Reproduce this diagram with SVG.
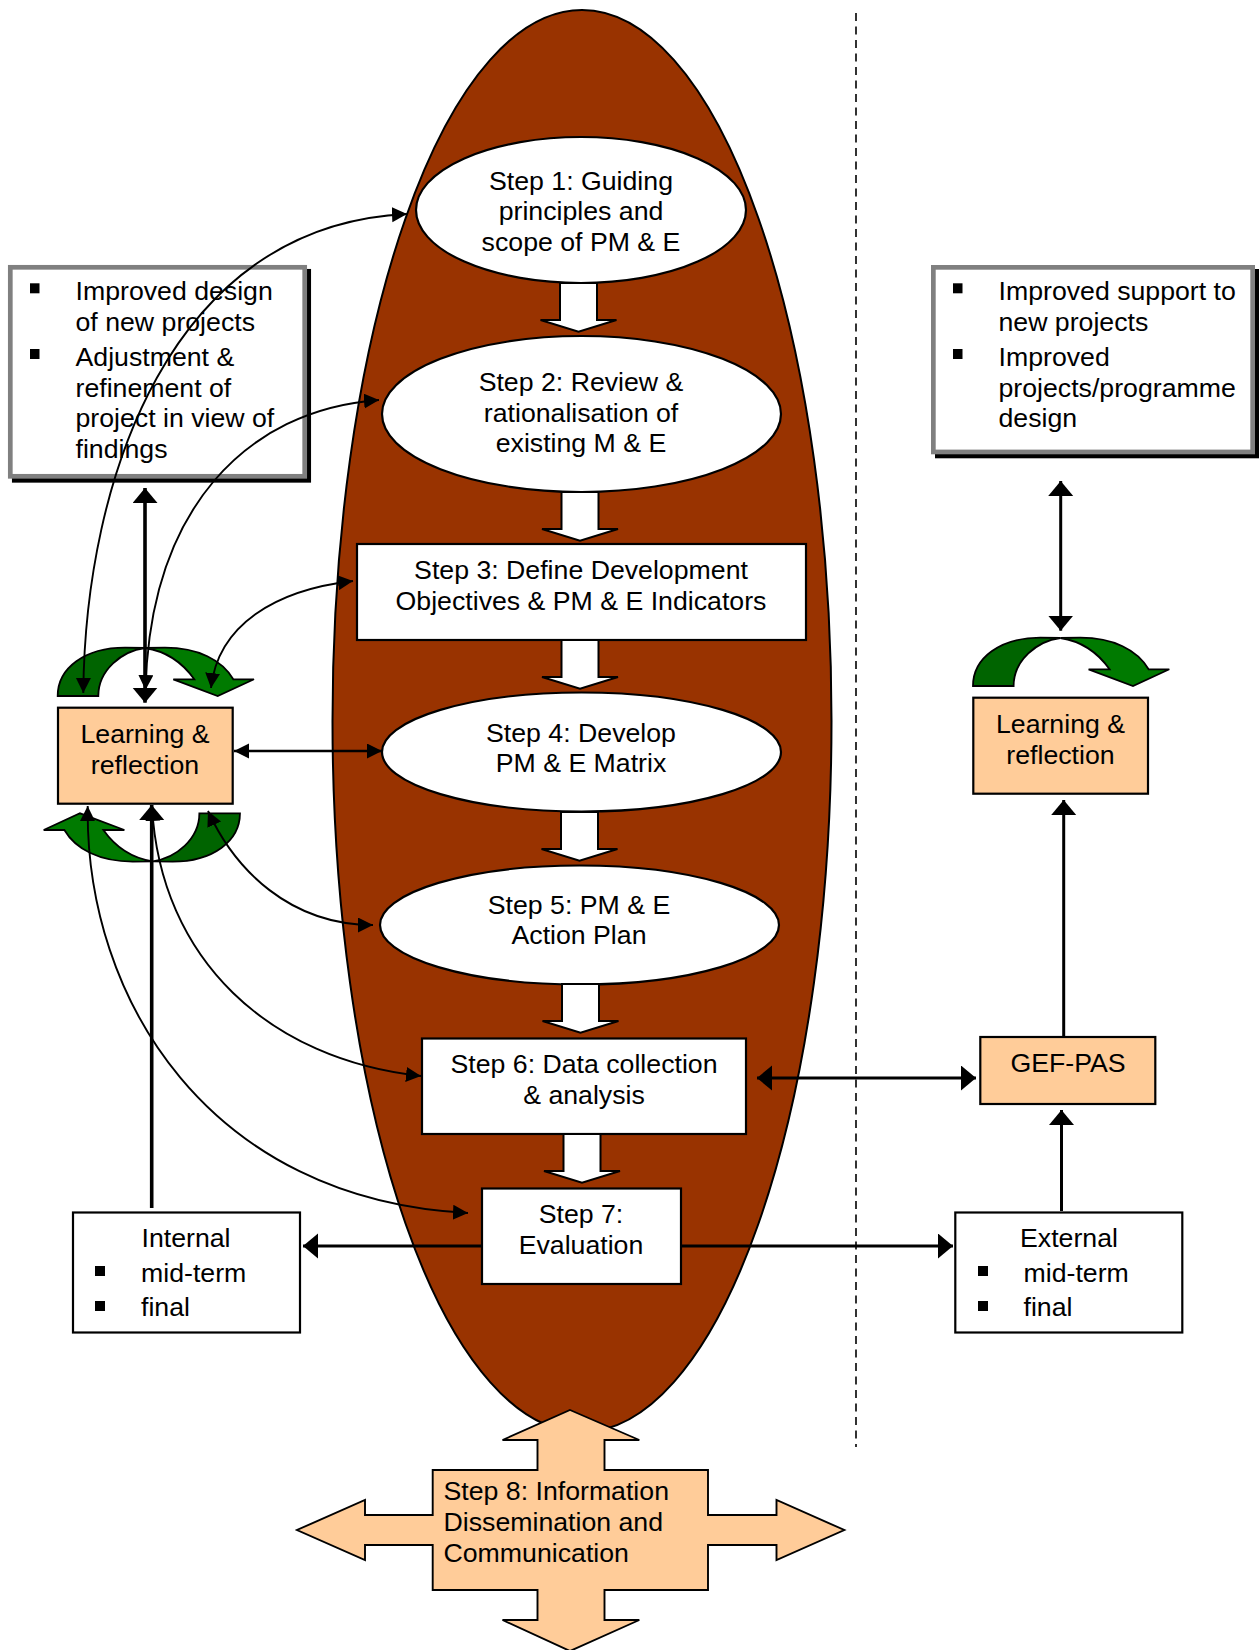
<svg xmlns="http://www.w3.org/2000/svg" xmlns:xlink="http://www.w3.org/1999/xlink" width="1259" height="1650" viewBox="0 0 1259 1650">
<style>
text{font-family:"Liberation Sans",Arial,sans-serif;font-size:26.7px;fill:#000}
.m{text-anchor:middle}
.box{fill:#fff;stroke:#000;stroke-width:2.2}
.peach{fill:#fc9;stroke:#000;stroke-width:2.2}
.ell{fill:#fff;stroke:#000;stroke-width:2.2}
.ws{fill:#fff;stroke:#000;stroke-width:2;stroke-linejoin:miter}
.thin{fill:none;stroke:#000;stroke-width:1.9;marker-start:url(#ahs);marker-end:url(#ah)}
.thick{fill:none;stroke:#000;stroke-width:3}
.heavy{fill:none;stroke:#000;stroke-width:3.6}
.dk{fill:#006400;stroke:#000;stroke-width:1.8}
.gr{fill:#007a00;stroke:#000;stroke-width:1.8}
</style>
<defs>
<marker id="ah" markerUnits="userSpaceOnUse" markerWidth="18" markerHeight="18" refX="15" refY="7.5" orient="auto"><path d="M0,0L15,7.5L0,15Z" fill="#000"/></marker>
<marker id="ahs" markerUnits="userSpaceOnUse" markerWidth="18" markerHeight="18" refX="15" refY="7.5" orient="auto-start-reverse"><path d="M0,0L15,7.5L0,15Z" fill="#000"/></marker>
<marker id="big" markerUnits="userSpaceOnUse" markerWidth="20" markerHeight="28" refX="15" refY="12.5" orient="auto"><path d="M0,0L15,12.5L0,25Z" fill="#000"/></marker>
<marker id="bigs" markerUnits="userSpaceOnUse" markerWidth="20" markerHeight="28" refX="15" refY="12.5" orient="auto-start-reverse"><path d="M0,0L15,12.5L0,25Z" fill="#000"/></marker>
<g id="down"><polygon class="ws" points="-18.5,0 18.5,0 18.5,37 38,37 0,48.7 -38,37 -18.5,37"/></g>
<g id="loop"><path class="dk" d="M57.7,696C57.7,668 85,647.7 125,647.7L145,648C122,651 98.3,670 98.3,696Z"/><path class="gr" d="M145,648L165,647.7C198,647.7 222,660 233.3,679.3L254,679.3L217.7,696L173.3,679.3L194.3,679.3C182,662 165,651 145,648Z"/></g>
</defs>
<g id="dashed-divider"><line x1="856" y1="13" x2="856" y2="1447" stroke="#000" stroke-width="1.6" stroke-dasharray="8 5.5"/></g>
<g id="big-ellipse"><ellipse cx="582" cy="721" rx="249.5" ry="711" fill="#930" stroke="#000" stroke-width="2"/></g>
<g id="step-1"><ellipse class="ell" cx="581" cy="210" rx="165" ry="73"/><text class="m" x="581" y="190">Step 1: Guiding</text><text class="m" x="581" y="220">principles and</text><text class="m" x="581" y="251">scope of PM &amp; E</text></g>
<g id="step-2"><ellipse class="ell" cx="581.5" cy="414" rx="199.5" ry="78"/><text class="m" x="581" y="391">Step 2: Review &amp;</text><text class="m" x="581" y="422">rationalisation of</text><text class="m" x="581" y="452">existing M &amp; E</text></g>
<g id="step-3"><rect class="box" x="357" y="544" width="449" height="96"/><text class="m" x="581" y="579">Step 3: Define Development</text><text class="m" x="581" y="610">Objectives &amp; PM &amp; E Indicators</text></g>
<g id="step-4"><ellipse class="ell" cx="581.5" cy="752" rx="199.5" ry="59.5"/><text class="m" x="581" y="742">Step 4: Develop</text><text class="m" x="581" y="772">PM &amp; E Matrix</text></g>
<g id="step-5"><ellipse class="ell" cx="579.5" cy="925" rx="199.5" ry="59.5"/><text class="m" x="579" y="914">Step 5: PM &amp; E</text><text class="m" x="579" y="944">Action Plan</text></g>
<g id="step-6"><rect class="box" x="422" y="1038.5" width="324" height="95.5"/><text class="m" x="584" y="1073">Step 6: Data collection</text><text class="m" x="584" y="1104">&amp; analysis</text></g>
<g id="step-7"><rect class="box" x="482" y="1188.5" width="199" height="95.5"/><text class="m" x="581" y="1223">Step 7:</text><text class="m" x="581" y="1254">Evaluation</text></g>
<g id="flow-arrows">
<use xlink:href="#down" href="#down" x="578.5" y="283"/>
<use xlink:href="#down" href="#down" x="580" y="492"/>
<use xlink:href="#down" href="#down" x="580" y="640"/>
<use xlink:href="#down" href="#down" x="579.5" y="812"/>
<use xlink:href="#down" href="#down" x="580.5" y="984"/>
<use xlink:href="#down" href="#down" x="582" y="1134"/>
</g>
<g id="step-8"><polygon class="peach" style="stroke-width:1.9" points="570,1410 639.3,1440 604.5,1440 604.5,1470 708,1470 708,1515 776.5,1515 776.5,1500 844.3,1530 776.5,1560 776.5,1545 708,1545 708,1590 604.5,1590 604.5,1620 639.3,1620 570,1651 502.5,1620 537.5,1620 537.5,1590 432.7,1590 432.7,1545 365,1545 365,1560 297,1530 365,1500 365,1515 432.7,1515 432.7,1470 537.5,1470 537.5,1440 502.5,1440"/><text x="443.5" y="1500">Step 8: Information</text><text x="443.5" y="1531">Dissemination and</text><text x="443.5" y="1562">Communication</text></g>
<g id="outcomes-left"><rect x="14.3" y="271.3" width="294.4" height="209" fill="#000" stroke="#000" stroke-width="4.7"/><rect x="10.3" y="267.3" width="294.4" height="209" fill="#fff" stroke="#808080" stroke-width="4.7"/><rect x="30" y="283.3" width="9.5" height="10"/><rect x="30" y="349" width="9.5" height="10"/><text x="75.5" y="300">Improved design</text><text x="75.5" y="330.7">of new projects</text><text x="75.5" y="366">Adjustment &amp;</text><text x="75.5" y="396.5">refinement of</text><text x="75.5" y="427">project in view of</text><text x="75.5" y="457.5">findings</text></g>
<g id="outcomes-right"><rect x="937.35" y="271.35" width="319.3" height="184.6" fill="#000" stroke="#000" stroke-width="4.7"/><rect x="933.35" y="267.35" width="319.3" height="184.6" fill="#fff" stroke="#808080" stroke-width="4.7"/><rect x="953" y="283.3" width="9.5" height="10"/><rect x="953" y="349" width="9.5" height="10"/><text x="998.5" y="300">Improved support to</text><text x="998.5" y="330.7">new projects</text><text x="998.5" y="366">Improved</text><text x="998.5" y="396.5">projects/programme</text><text x="998.5" y="427">design</text></g>
<g id="learning-left"><rect class="peach" x="58" y="707.7" width="174.7" height="96"/><text class="m" x="145" y="743.3">Learning &amp;</text><text class="m" x="145" y="773.8">reflection</text></g>
<g id="learning-right"><rect class="peach" x="973.3" y="697.7" width="174.7" height="96"/><text class="m" x="1060.5" y="733">Learning &amp;</text><text class="m" x="1060.5" y="763.5">reflection</text></g>
<g id="loops">
<use xlink:href="#loop" href="#loop"/>
<use xlink:href="#loop" href="#loop" transform="translate(297.67,1509.3) rotate(180)"/>
<use xlink:href="#loop" href="#loop" transform="translate(915.3,-10)"/>
<use xlink:href="#loop" href="#loop" transform="translate(2128.27,1489.3) rotate(180)"/>
</g>
<g id="gef-pas"><rect class="peach" x="980.3" y="1037" width="175" height="67"/><text class="m" x="1068" y="1072">GEF-PAS</text></g>
<g id="internal"><rect class="box" x="73" y="1212.5" width="227" height="120"/><text class="m" x="186" y="1247">Internal</text><rect x="95" y="1266" width="10" height="10"/><text x="141" y="1282">mid-term</text><rect x="95" y="1301" width="10" height="10"/><text x="141" y="1316">final</text></g>
<g id="external"><rect class="box" x="955.3" y="1212.5" width="227" height="120"/><text class="m" x="1069" y="1247">External</text><rect x="978" y="1266" width="10" height="10"/><text x="1023.5" y="1282">mid-term</text><rect x="978" y="1301" width="10" height="10"/><text x="1023.5" y="1316">final</text></g>
<g id="connectors">
<path class="thin" d="M83.3,693C85,480 170,225 407,214"/>
<path class="thin" d="M145.5,690C150,510 245,410 379,400"/>
<path class="thin" d="M211,688C218,625 275,590 353,581"/>
<path class="thin" style="stroke-width:2.4" d="M234,751H382"/>
<path class="thin" d="M208,811C235,870 290,925 373,925"/>
<path class="thin" d="M152,806C160,960 270,1060 421,1076"/>
<path class="thin" d="M87.7,806C85,1000 210,1200 468,1213"/>
<path class="heavy" marker-start="url(#bigs)" marker-end="url(#big)" d="M145,488V702.7"/>
<path class="heavy" marker-end="url(#big)" d="M151.7,1208V805"/>
<path class="thick" marker-start="url(#bigs)" marker-end="url(#big)" d="M1060.7,481V630.7"/>
<path class="thick" marker-end="url(#big)" d="M1063.7,1037V800"/>
<path class="thick" marker-start="url(#bigs)" marker-end="url(#big)" d="M757,1078H976"/>
<path class="thick" marker-end="url(#big)" d="M482,1246H303"/>
<path class="thick" marker-end="url(#big)" d="M681,1246H953"/>
<path class="thick" marker-end="url(#big)" d="M1061.5,1211V1110"/>
</g>
</svg>
